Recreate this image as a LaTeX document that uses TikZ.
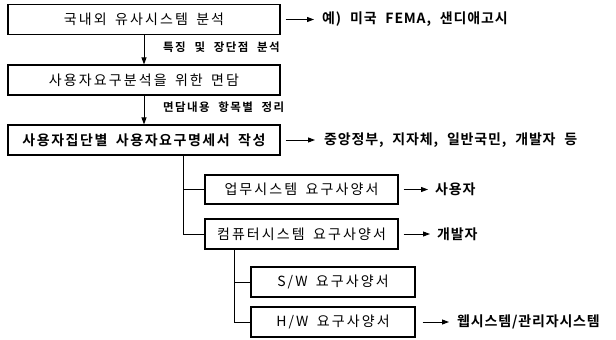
\documentclass[tikz,border=0pt]{standalone}
\usepackage{fontspec}
\usetikzlibrary{arrows.meta}
\setmainfont{Noto Sans CJK KR}
\newfontfamily\kr[LetterSpace=15,WordSpace=1.6]{Noto Sans CJK KR}
\newfontfamily\krb[LetterSpace=6,WordSpace=2.2]{Noto Sans CJK KR Bold}
\newfontfamily\krt[LetterSpace=11,WordSpace=1.8]{Noto Sans CJK KR Bold}
\newfontfamily\krl[LetterSpace=12,WordSpace=2.2]{Noto Sans CJK KR Bold}
\tikzset{
  x=1pt,y=-1pt,
  boxa/.style={draw,line width=1.1pt,minimum height=30pt,inner sep=0pt,font=\kr\fontsize{14}{15}\selectfont},
  side/.style={anchor=west,inner sep=0pt,font=\krb\fontsize{14}{15}\selectfont},
  lbl/.style={anchor=west,inner sep=0pt,font=\krl\fontsize{11.5}{12}\selectfont},
  arr/.style={line width=0.9pt,-{Triangle[length=7pt,width=5pt]}},
  tree/.style={line width=1pt},
}
\begin{document}
\begin{tikzpicture}
\useasboundingbox (0,0) rectangle (616,340);
\node[boxa,minimum width=272pt] (b1) at (144,19.5) {국내외 유사시스템 분석};
\node[boxa,minimum width=272pt] (b2) at (144,80) {사용자요구분석을 위한 면담};
\node[boxa,minimum width=272pt,font=\krt\fontsize{14}{15}\selectfont] (b3) at (144,140) {사용자집단별 사용자요구명세서 작성};
\node[boxa,minimum width=193pt,minimum height=29pt] (b4) at (301.5,189.5) {업무시스템 요구사양서};
\node[boxa,minimum width=193pt] (b5) at (301.5,234) {컴퓨터시스템 요구사양서};
\node[boxa,minimum width=164pt] (b6) at (333,282) {S/W 요구사양서};
\node[boxa,minimum width=164pt] (b7) at (333,322) {H/W 요구사양서};

\node[side] (t1) at (322,19.5) {예) 미국 FEMA, 샌디애고시};
\node[side] (t3) at (324,140) {중앙정부, 지자체, 일반국민, 개발자 등};
\node[side] (t4) at (435,189.5) {사용자};
\node[side] (t5) at (437,234) {개발자};
\node[side] (t7) at (457,322) {웹시스템/관리자시스템};

\node[lbl] (l1) at (163,47) {특징 및 장단점 분석};
\node[lbl] (l2) at (163,107) {면담내용 항목별 정리};

\draw[arr] (b1) -- (b2);
\draw[arr] (b2) -- (b3);
\draw[arr] ([xshift=5pt]b1.east) -- ([xshift=-8pt]t1.west);
\draw[arr] ([xshift=5pt]b3.east) -- ([xshift=-9pt]t3.west);
\draw[arr] ([xshift=5pt]b4.east) -- ([xshift=-7pt]t4.west);
\draw[arr] ([xshift=5pt]b5.east) -- ([xshift=-7pt]t5.west);
\draw[arr] ([xshift=7pt]b7.east) -- ([xshift=-8pt]t7.west);

\draw[tree] ([xshift=39pt]b3.south) |- (b4.west);
\draw[tree] ([xshift=39pt]b3.south) |- (b5.west);
\draw[tree] ([xshift=-67.5pt]b5.south) |- (b6.west);
\draw[tree] ([xshift=-67.5pt]b5.south) |- (b7.west);
\end{tikzpicture}
\end{document}
